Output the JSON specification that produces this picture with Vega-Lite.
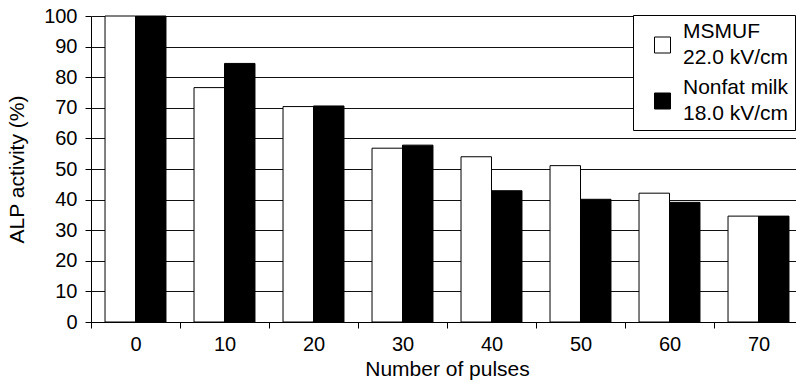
{
  "$schema": "https://vega.github.io/schema/vega-lite/v6.json",
  "width": 712,
  "height": 306,
  "autosize": {"type": "none"},
  "padding": {"left": 91, "top": 16, "right": -7, "bottom": 66},
  "background": "white",
  "data": {
    "values": [
      {"pulses": 0, "sample": "MSMUF", "activity": 100},
      {"pulses": 0, "sample": "Nonfat milk", "activity": 100},
      {"pulses": 10, "sample": "MSMUF", "activity": 76.6},
      {"pulses": 10, "sample": "Nonfat milk", "activity": 84.5},
      {"pulses": 20, "sample": "MSMUF", "activity": 70.4},
      {"pulses": 20, "sample": "Nonfat milk", "activity": 70.6},
      {"pulses": 30, "sample": "MSMUF", "activity": 56.8},
      {"pulses": 30, "sample": "Nonfat milk", "activity": 57.8},
      {"pulses": 40, "sample": "MSMUF", "activity": 54.0},
      {"pulses": 40, "sample": "Nonfat milk", "activity": 42.9},
      {"pulses": 50, "sample": "MSMUF", "activity": 51.1},
      {"pulses": 50, "sample": "Nonfat milk", "activity": 40.1},
      {"pulses": 60, "sample": "MSMUF", "activity": 42.1},
      {"pulses": 60, "sample": "Nonfat milk", "activity": 39.1},
      {"pulses": 70, "sample": "MSMUF", "activity": 34.6},
      {"pulses": 70, "sample": "Nonfat milk", "activity": 34.6}
    ]
  },
  "mark": {"type": "bar", "stroke": "black", "strokeWidth": 1, "opacity": 1},
  "encoding": {
    "x": {
      "field": "pulses",
      "type": "ordinal",
      "scale": {"paddingInner": 0, "paddingOuter": 0},
      "axis": {
        "title": "Number of pulses",
        "labelAngle": 0,
        "tickBand": "extent",
        "tickSize": 6,
        "labelPadding": 6,
        "titlePadding": 4,
        "grid": false
      }
    },
    "xOffset": {
      "field": "sample",
      "type": "nominal",
      "scale": {"paddingInner": 0, "paddingOuter": 0.46}
    },
    "y": {
      "field": "activity",
      "type": "quantitative",
      "scale": {"domain": [0, 100], "nice": false},
      "axis": {
        "title": "ALP activity (%)",
        "values": [0, 10, 20, 30, 40, 50, 60, 70, 80, 90, 100],
        "grid": true,
        "tickSize": 6,
        "labelPadding": 8,
        "titlePadding": 16
      }
    },
    "fill": {
      "field": "sample",
      "type": "nominal",
      "scale": {"domain": ["MSMUF", "Nonfat milk"], "range": ["white", "black"]},
      "legend": {
        "title": null,
        "orient": "none",
        "legendX": 542,
        "legendY": -1,
        "fillColor": "white",
        "strokeColor": "black",
        "padding": 6,
        "symbolType": "square",
        "symbolSize": 256,
        "symbolStrokeColor": "black",
        "symbolStrokeWidth": 1,
        "symbolOffset": 13,
        "labelOffset": 10,
        "labelFontSize": 21,
        "labelColor": "black",
        "labelLimit": 200,
        "rowPadding": 8,
        "labelExpr": "datum.label == 'MSMUF' ? ['MSMUF', '22.0 kV/cm'] : ['Nonfat milk', '18.0 kV/cm']",
        "encoding": {
          "labels": {"lineHeight": {"value": 26}},
          "symbols": {"y": {"value": 24}}
        }
      }
    }
  },
  "config": {
    "view": {"stroke": null},
    "font": "Liberation Sans",
    "axis": {
      "domainColor": "black",
      "tickColor": "black",
      "gridColor": "#111",
      "gridOpacity": 1,
      "labelColor": "black",
      "titleColor": "black",
      "labelFontSize": 20,
      "titleFontSize": 21,
      "titleFontWeight": "normal",
      "labelFont": "Liberation Sans",
      "titleFont": "Liberation Sans"
    },
    "legend": {"labelFont": "Liberation Sans"}
  }
}
